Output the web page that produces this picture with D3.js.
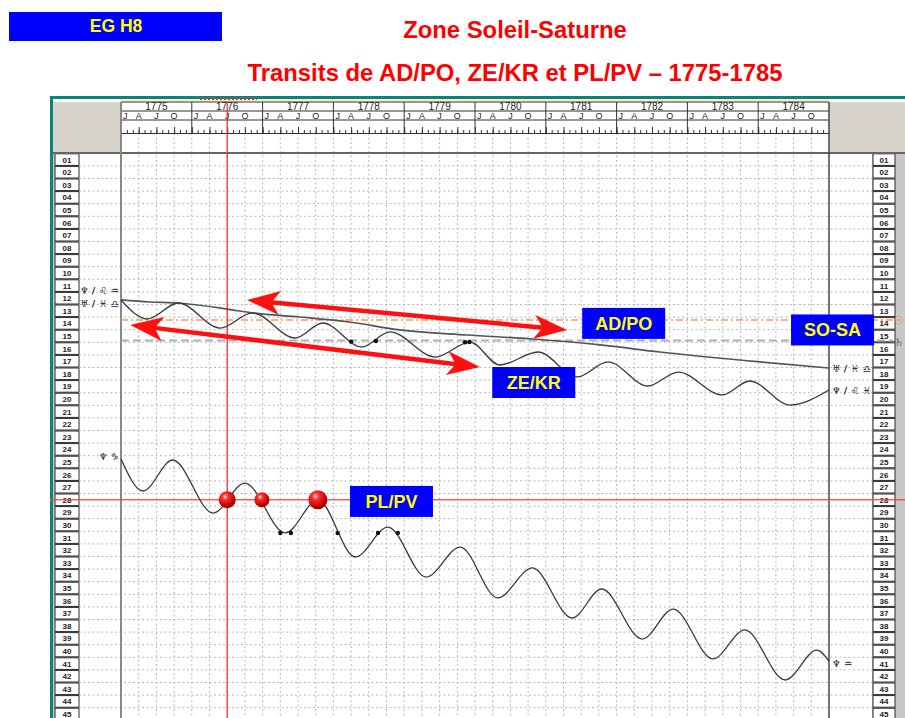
<!DOCTYPE html>
<meta charset="utf-8">
<style>
body { margin: 0; background: #fff; }
svg { display: block; font-family: "Liberation Sans", Arial, sans-serif; }
.grid { stroke: #b8b8b8; stroke-width: 1; stroke-dasharray: 2,2.5; }
.curve { fill: none; stroke: #3a3a3a; stroke-width: 1.3; }
.glyph { font-family: "DejaVu Sans", sans-serif; font-size: 9.5px; font-weight: bold; fill: #222; }
.tag text { fill: #ffff00; font-weight: bold; font-size: 18px; }
</style>
<svg width="905" height="718"></svg>
<script src="https://cdn.jsdelivr.net/npm/d3@7"></script>
<script>

// ---- data (decimal year, row on the 01..45 scale) ----
var years = [1775, 1776, 1777, 1778, 1779, 1780, 1781, 1782, 1783, 1784];
var monthLetters = ["J", "A", "J", "O"];
var rowLabels = ["01","02","03","04","05","06","07","08","09","10","11","12","13","14","15",
                 "16","17","18","19","20","21","22","23","24","25","26","27","28","29","30",
                 "31","32","33","34","35","36","37","38","39","40","41","42","43","44","45"];

// AD/PO: slow, almost straight line
var adPo = [[1775.00, 12.14], [1775.41, 12.30], [1775.81, 12.38], [1776.50, 12.86], [1776.86, 13.17],
            [1777.53, 13.49], [1778.23, 13.89], [1778.94, 14.52], [1779.89, 14.92], [1780.82, 15.24],
            [1781.77, 15.71], [1782.61, 16.27], [1784.03, 17.06], [1785.00, 17.54]];

// ZE/KR: yearly wave
var zeKr = [[1775.00, 12.14], [1775.37, 13.65], [1775.81, 12.38], [1776.40, 14.37], [1776.86, 13.17],
            [1777.46, 15.16], [1777.85, 13.97], [1778.40, 15.87], [1778.80, 14.68], [1779.44, 16.67],
            [1779.93, 15.48], [1780.35, 17.30], [1780.89, 16.27], [1781.44, 18.25], [1781.88, 17.06],
            [1782.44, 18.97], [1782.87, 17.86], [1783.49, 19.68], [1783.88, 18.57], [1784.45, 20.48],
            [1785.00, 19.29]];

// PL/PV: yearly wave, steeper
var plPv = [[1775.00, 24.76], [1775.31, 27.30], [1775.73, 24.84], [1776.30, 29.05], [1776.75, 26.67],
            [1777.32, 30.63], [1777.78, 28.02], [1778.31, 32.54], [1778.77, 30.17], [1779.31, 34.13],
            [1779.79, 31.75], [1780.32, 35.79], [1780.81, 33.41], [1781.37, 37.38], [1781.79, 35.08],
            [1782.36, 39.05], [1782.80, 36.67], [1783.36, 40.63], [1783.81, 38.33], [1784.38, 42.30],
            [1784.83, 39.93], [1785.00, 40.81]];

var zeKrDots = [[1778.25, 15.45], [1778.60, 15.40], [1779.86, 15.50], [1779.92, 15.48]];
var plPvDots = [[1777.25, 30.63], [1777.40, 30.63], [1778.06, 30.63], [1778.63, 30.63], [1778.91, 30.63]];
var plPvHits = [1776.50, 1776.99, 1777.78];   // contacts with row 28
var hitSizes = [8.5, 7.5, 9.5];

var sunRow = 13.73, saturnRow = 15.36, pvRow = 28, markYear = 1776.5;

// red double arrows [year1,row1,year2,row2]
var arrows = [[1776.78, 12.14, 1781.30, 14.52],
              [1775.13, 14.13, 1780.07, 17.46]];

// blue tags: text, year, row
var tags = [["AD/PO", 1782.10, 14.00], ["SO-SA", 1785.05, 14.52],
            ["ZE/KR", 1780.83, 18.69], ["PL/PV", 1778.82, 28.13]];

// glyph labels (U+FE0E keeps the text form of the symbols)
var leftGlyphs  = [["♆\uFE0E / ♌\uFE0E ♒\uFE0E", 11.35], ["♅\uFE0E / ♓\uFE0E ♎\uFE0E", 12.4], ["♆\uFE0E ♑\uFE0E", 24.6]];
var rightGlyphs = [["♅\uFE0E / ♓\uFE0E ♎\uFE0E", 17.6], ["♆\uFE0E / ♌\uFE0E ♓\uFE0E", 19.35], ["♆\uFE0E ♒\uFE0E", 41.0]];

// ---- layout ----
var svg = d3.select("svg");
var x = d3.scaleLinear().domain([1775, 1785]).range([121, 829]),
    y = d3.scaleLinear().domain([1, 45]).range([159.6, 714]);
var headTop = 102, headBottom = 153, bottom = 718;

var defs = svg.append("defs");
var grad = defs.append("radialGradient").attr("id", "ball")
    .attr("cx", "38%").attr("cy", "32%").attr("r", "70%");
grad.append("stop").attr("offset", "0%").attr("stop-color", "#ffe0e0");
grad.append("stop").attr("offset", "25%").attr("stop-color", "#ff3030");
grad.append("stop").attr("offset", "75%").attr("stop-color", "#c80000");
grad.append("stop").attr("offset", "100%").attr("stop-color", "#7a0000");

// titles
svg.append("rect").attr("x", 9).attr("y", 12).attr("width", 213).attr("height", 29).attr("fill", "#0000ff");
svg.append("text").attr("x", 116).attr("y", 32).attr("text-anchor", "middle")
    .attr("fill", "#ffff00").style("font-weight", "bold").style("font-size", "17.5px").text("EG H8");
svg.append("text").attr("x", 515).attr("y", 38).attr("text-anchor", "middle")
    .attr("fill", "#ff0000").style("font-weight", "bold").style("font-size", "23.8px").text("Zone Soleil-Saturne");
svg.append("text").attr("x", 515).attr("y", 81).attr("text-anchor", "middle")
    .attr("fill", "#ff0000").style("font-weight", "bold").style("font-size", "23.8px")
    .text("Transits de AD/PO, ZE/KR et PL/PV \u2013 1775-1785");

// frame
svg.append("rect").attr("x", 50).attr("y", 96).attr("width", 855).attr("height", 3).attr("fill", "#0a847c");
svg.append("rect").attr("x", 50).attr("y", 96).attr("width", 3).attr("height", bottom - 96).attr("fill", "#0a847c");
svg.append("rect").attr("x", 121).attr("y", 99).attr("width", 708).attr("height", 2.5).attr("fill", "#f6f0c8");
svg.append("line").attr("x1", 200).attr("x2", 257).attr("y1", 99).attr("y2", 99)
    .attr("stroke", "#e03030").attr("stroke-width", 2).attr("stroke-dasharray", "2,2");

svg.append("rect").attr("x", 53).attr("y", headTop).attr("width", 68).attr("height", headBottom - headTop).attr("fill", "#d7d3cb");
svg.append("rect").attr("x", 829).attr("y", headTop).attr("width", 76).attr("height", headBottom - headTop).attr("fill", "#d7d3cb");

// label columns
svg.append("rect").attr("x", 53).attr("y", headBottom).attr("width", 26).attr("height", bottom - headBottom).attr("fill", "#c8c8c8");
svg.append("rect").attr("x", 872).attr("y", headBottom).attr("width", 33).attr("height", bottom - headBottom).attr("fill", "#c8c8c8");

[[55, 24], [873, 22]].forEach(function(c) {
  var g = svg.append("g");
  g.selectAll("rect").data(rowLabels).enter().append("rect")
      .attr("x", c[0]).attr("width", c[1])
      .attr("y", function(d, i) { return y(i + 1) - 5.8; })
      .attr("height", 11.6)
      .attr("fill", "#fff").attr("stroke", "#2a2a2a").attr("stroke-width", 1);
  g.selectAll("text").data(rowLabels).enter().append("text")
      .attr("x", c[0] + c[1] / 2)
      .attr("y", function(d, i) { return y(i + 1) + 3; })
      .attr("text-anchor", "middle")
      .style("font-size", "8px").style("font-weight", "bold").attr("fill", "#222")
      .text(function(d) { return d; });
});

// grid
var quarters = [];
years.forEach(function(yr) { [0, 0.25, 0.5, 0.75].forEach(function(q) { if (yr + q > 1775) quarters.push(yr + q); }); });
svg.append("g").selectAll("line").data(quarters).enter().append("line")
    .attr("class", "grid")
    .attr("x1", function(d) { return x(d); }).attr("x2", function(d) { return x(d); })
    .attr("y1", 133).attr("y2", bottom);
svg.append("g").selectAll("line").data(d3.range(1, 46)).enter().append("line")
    .attr("class", "grid")
    .attr("x1", 79).attr("x2", 872)
    .attr("y1", function(d) { return y(d + 0.5); }).attr("y2", function(d) { return y(d + 0.5); });

// header (years, months, month ticks)
var head = svg.append("g");
head.append("rect").attr("x", 121).attr("y", headTop).attr("width", 708).attr("height", 31).attr("fill", "#fff");
[headTop, 111, 120].forEach(function(v) {
  head.append("line").attr("x1", 121).attr("x2", 829).attr("y1", v).attr("y2", v)
      .attr("stroke", "#333").attr("stroke-width", 1);
});
head.selectAll(".yl").data(years).enter().append("line")
    .attr("x1", function(d) { return x(d); }).attr("x2", function(d) { return x(d); })
    .attr("y1", headTop).attr("y2", 133).attr("stroke", "#333");
head.selectAll(".yt").data(years).enter().append("text")
    .attr("x", function(d) { return x(d + 0.5); }).attr("y", 110)
    .attr("text-anchor", "middle").style("font-size", "10px").attr("fill", "#222")
    .text(function(d) { return d; });
years.forEach(function(yr) {
  monthLetters.forEach(function(m, i) {
    head.append("text")
        .attr("x", i === 0 ? x(yr) + 2 : x(yr + i / 4))
        .attr("y", 119).attr("text-anchor", i === 0 ? "start" : "middle")
        .style("font-size", "9px").attr("fill", "#222").text(m);
  });
});
var months = d3.range(0, 120).map(function(i) { return 1775 + i / 12; });
head.append("g").attr("transform", "translate(0,133)")
    .call(d3.axisTop(x).tickValues(months).tickSizeInner(3).tickSizeOuter(0).tickFormat(""))
    .call(function(g) { g.selectAll("line,path").attr("stroke", "#333"); });
head.append("g").attr("transform", "translate(0,133)")
    .call(d3.axisTop(x).tickValues(quarters).tickSizeInner(6).tickSizeOuter(0).tickFormat(""))
    .call(function(g) { g.select(".domain").remove(); g.selectAll("line").attr("stroke", "#333"); });

svg.append("line").attr("x1", 53).attr("x2", 905).attr("y1", headBottom).attr("y2", headBottom)
    .attr("stroke", "#666").attr("stroke-width", 2);
svg.append("line").attr("x1", 121).attr("x2", 121).attr("y1", headTop).attr("y2", bottom)
    .attr("stroke", "#888").attr("stroke-width", 2);
svg.append("line").attr("x1", 829).attr("x2", 829).attr("y1", headTop).attr("y2", bottom)
    .attr("stroke", "#444").attr("stroke-width", 1.5);

// reference levels
svg.append("line").attr("x1", 121).attr("x2", 893).attr("y1", y(sunRow)).attr("y2", y(sunRow))
    .attr("stroke", "#ff9955").attr("stroke-width", 1.3).attr("stroke-dasharray", "7,3,2,3");
svg.append("line").attr("x1", 121).attr("x2", 893).attr("y1", y(saturnRow)).attr("y2", y(saturnRow))
    .attr("stroke", "#b0b0b0").attr("stroke-width", 2).attr("stroke-dasharray", "8,4");
svg.append("text").attr("x", 899).attr("y", y(sunRow) + 4).attr("text-anchor", "middle")
    .attr("class", "glyph").style("fill", "#ff8040").style("font-size", "11px").text("☉\uFE0E");
svg.append("text").attr("x", 899).attr("y", y(saturnRow) + 5).attr("text-anchor", "middle")
    .attr("class", "glyph").style("fill", "#666").style("font-size", "11px").text("♄\uFE0E");

// red cross lines
svg.append("line").attr("x1", 50).attr("x2", 905).attr("y1", y(pvRow)).attr("y2", y(pvRow))
    .attr("stroke", "#ff4040").attr("stroke-width", 1.6).attr("opacity", 0.85);
svg.append("line").attr("x1", x(markYear)).attr("x2", x(markYear)).attr("y1", headTop).attr("y2", bottom)
    .attr("stroke", "#ff2020").attr("stroke-width", 1.2);

// curves
var line = d3.line().curve(d3.curveMonotoneX)
    .x(function(d) { return x(d[0]); })
    .y(function(d) { return y(d[1]); });
svg.append("path").attr("class", "curve").attr("d", line(adPo)).style("stroke", "#555").style("stroke-width", 1.7);
svg.append("path").attr("class", "curve").attr("d", line(zeKr));
svg.append("path").attr("class", "curve").attr("d", line(plPv));

svg.append("g").selectAll("circle").data(zeKrDots.concat(plPvDots)).enter().append("circle")
    .attr("cx", function(d) { return x(d[0]); }).attr("cy", function(d) { return y(d[1]); })
    .attr("r", 2.2).attr("fill", "#111");

svg.append("g").selectAll("circle").data(plPvHits).enter().append("circle")
    .attr("cx", function(d) { return x(d); }).attr("cy", y(pvRow))
    .attr("r", function(d, i) { return hitSizes[i]; })
    .attr("fill", "url(#ball)");

// glyph labels at curve ends
svg.append("g").selectAll("text").data(leftGlyphs).enter().append("text")
    .attr("class", "glyph").attr("x", 119).attr("text-anchor", "end")
    .attr("y", function(d) { return y(d[1]) + 3.5; }).text(function(d) { return d[0]; });
svg.append("g").selectAll("text").data(rightGlyphs).enter().append("text")
    .attr("class", "glyph").attr("x", 832)
    .attr("y", function(d) { return y(d[1]) + 3.5; }).text(function(d) { return d[0]; });

// arrows
var hl = 33, hw = 12, sw = 4.5, notch = 7;
svg.append("g").selectAll("path").data(arrows).enter().append("path")
    .attr("fill", "#ff1010")
    .attr("transform", function(d) {
      var a = Math.atan2(y(d[3]) - y(d[1]), x(d[2]) - x(d[0])) * 180 / Math.PI;
      return "translate(" + x(d[0]) + "," + y(d[1]) + ") rotate(" + a + ")";
    })
    .attr("d", function(d) {
      var dx = x(d[2]) - x(d[0]), dy = y(d[3]) - y(d[1]), L = Math.sqrt(dx * dx + dy * dy);
      return "M0,0L" + hl + "," + (-hw) + "L" + (hl - notch) + "," + (-sw / 2) +
             "L" + (L - hl + notch) + "," + (-sw / 2) + "L" + (L - hl) + "," + (-hw) +
             "L" + L + ",0L" + (L - hl) + "," + hw + "L" + (L - hl + notch) + "," + (sw / 2) +
             "L" + (hl - notch) + "," + (sw / 2) + "L" + hl + "," + hw + "Z";
    });

// blue tags
var tag = svg.append("g").selectAll("g").data(tags).enter().append("g").attr("class", "tag")
    .attr("transform", function(d) { return "translate(" + x(d[1]) + "," + y(d[2]) + ")"; });
tag.append("rect").attr("x", -41.5).attr("y", -15.5).attr("width", 83).attr("height", 31).attr("fill", "#0000ff");
tag.append("text").attr("text-anchor", "middle").attr("y", 6.5).text(function(d) { return d[0]; });

</script>
